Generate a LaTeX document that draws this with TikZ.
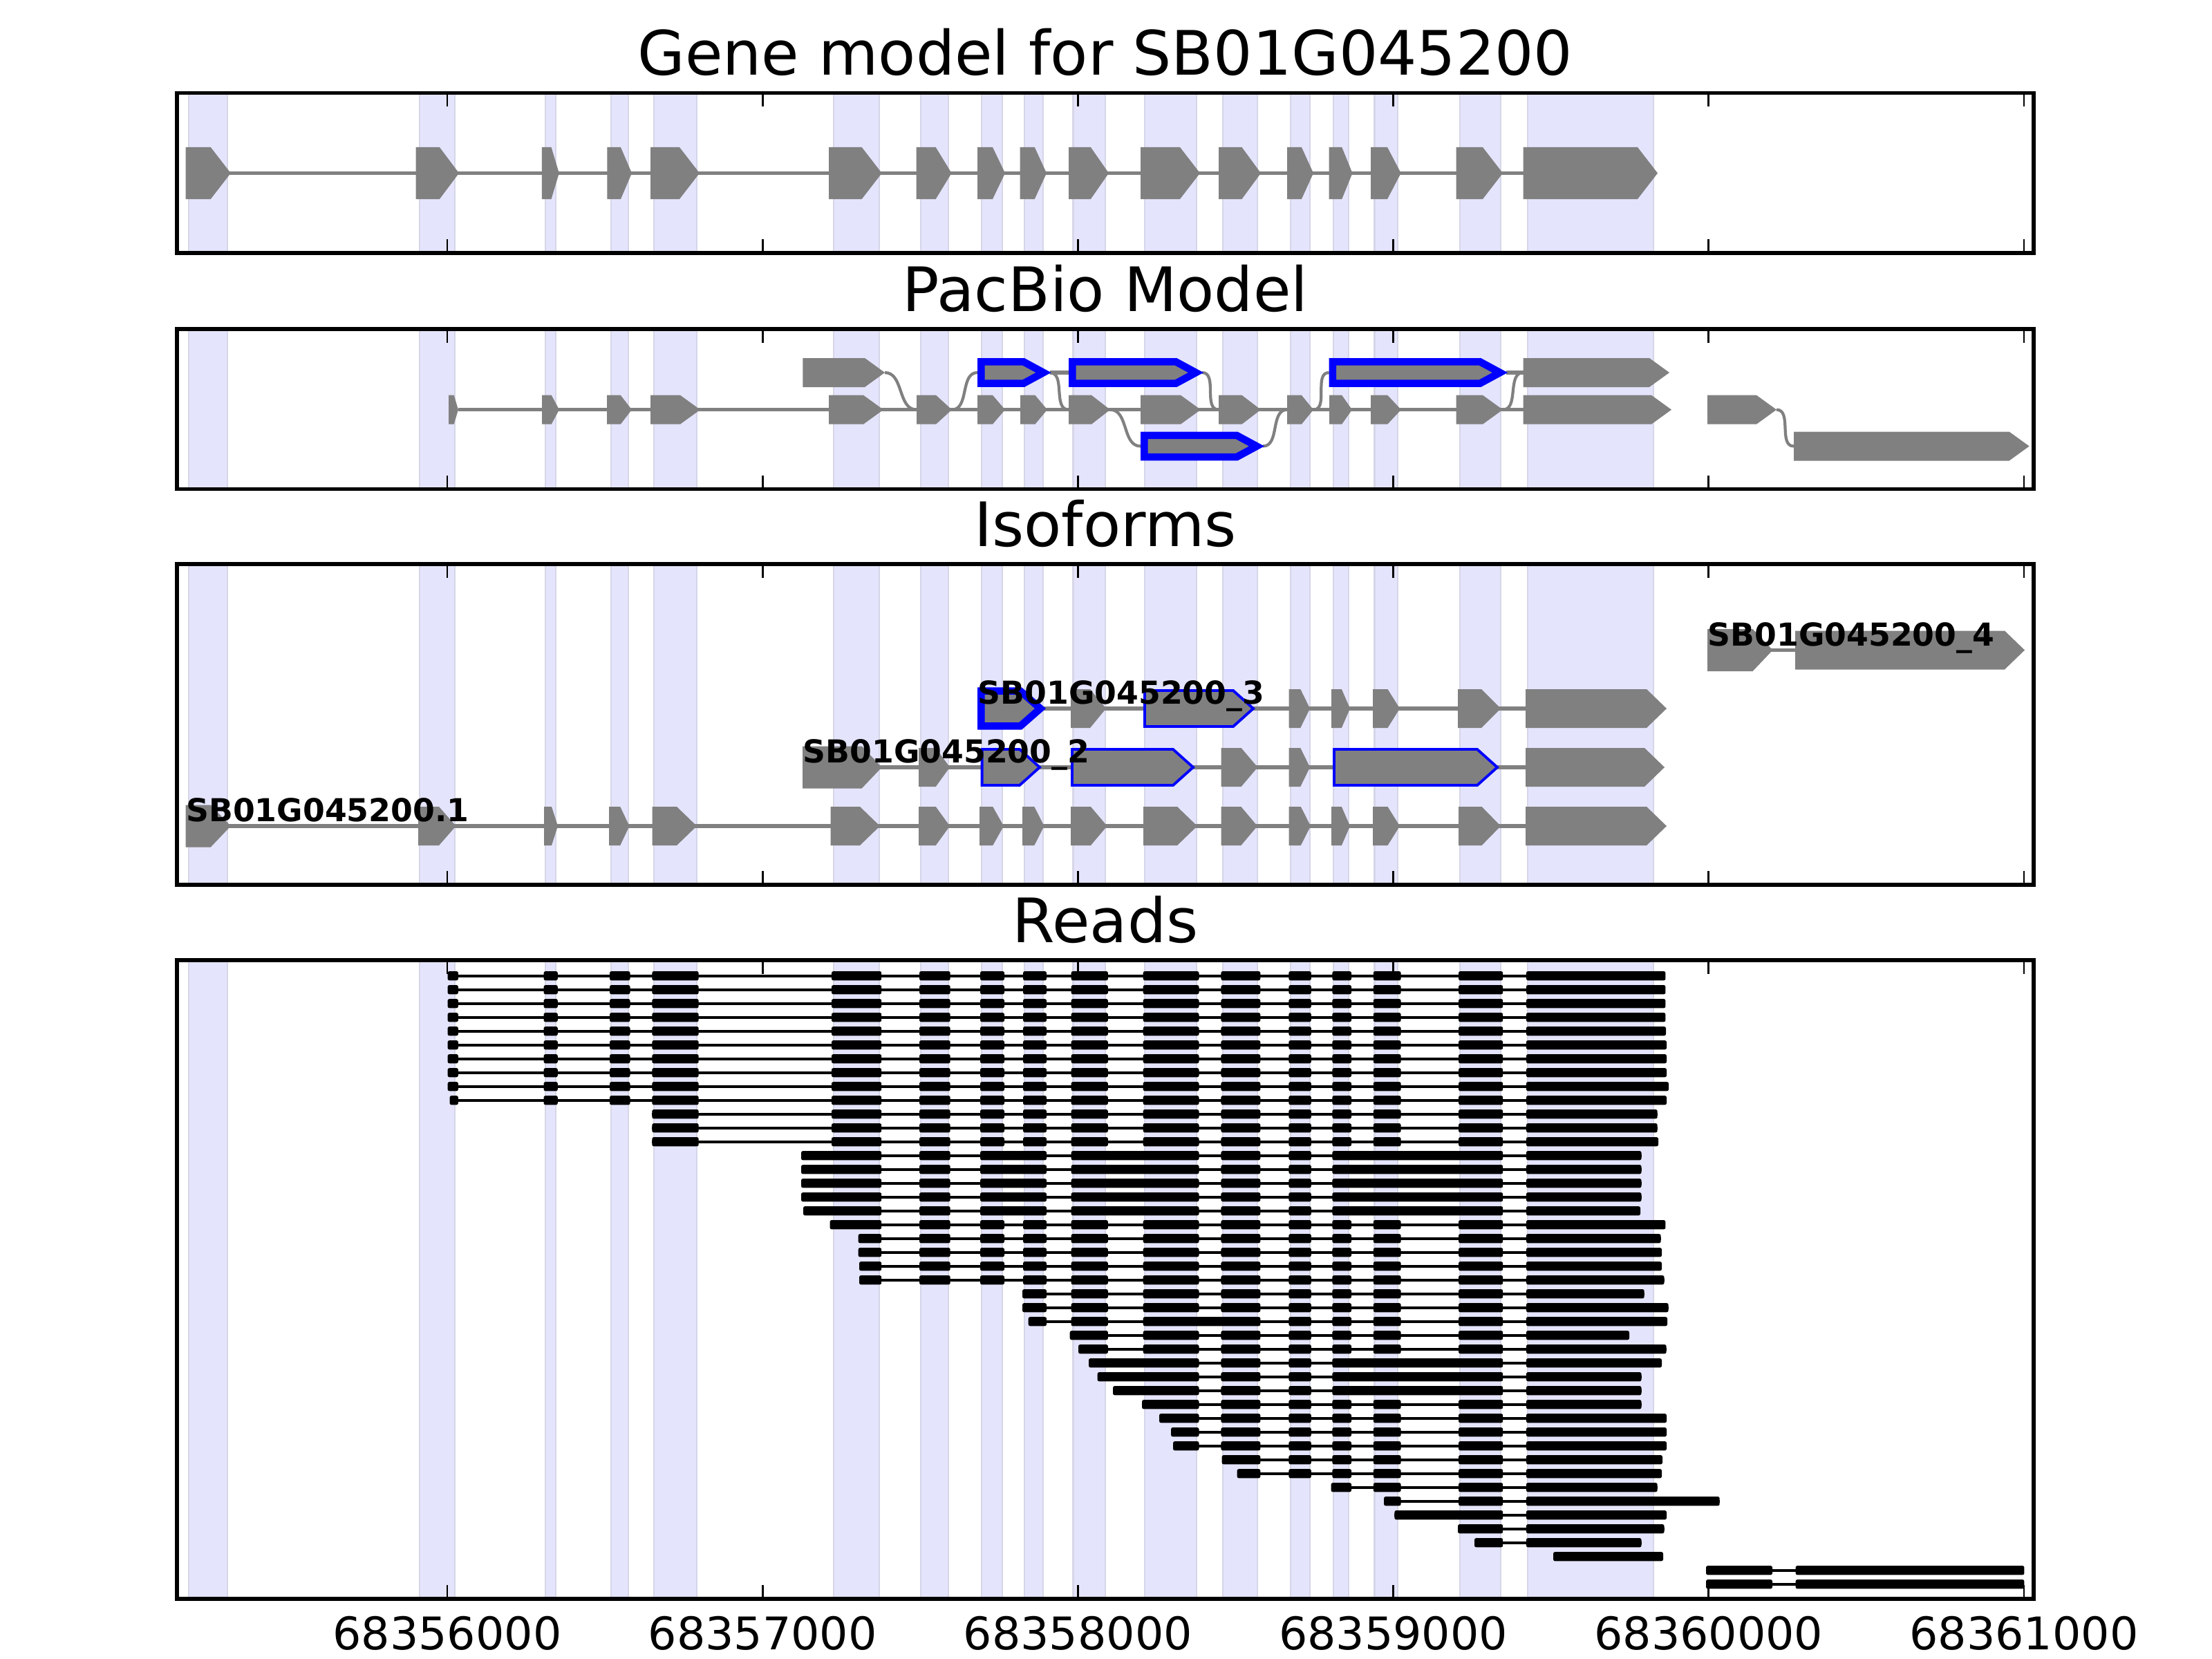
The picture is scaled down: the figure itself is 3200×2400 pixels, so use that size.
\documentclass[tikz,border=0pt]{standalone}
\usepackage{fontspec}
\setmainfont{DejaVu Sans}
\definecolor{exgray}{gray}{0.5}
\definecolor{band}{RGB}{228,228,252}
\definecolor{bandedge}{RGB}{214,214,232}
\tikzset{
  frame/.style={draw=black, line width=1.56pt},
  tickmark/.style={draw=black, line width=0.8pt},
  intron/.style={draw=exgray, line width=1.55pt},
  junction/.style={draw=exgray, line width=1.2pt},
  exonfill/.style={fill=exgray},
  bluethick/.style={fill=exgray, draw=blue, line width=3pt},
  bluethin/.style={fill=exgray, draw=blue, line width=1.1pt},
  readline/.style={draw=black, line width=1.15pt},
  readblock/.style={fill=black, rounded corners=0.7pt},
  title/.style={font=\fontsize{25.2}{30}\selectfont, anchor=base, inner sep=0pt},
  ticklabel/.style={font=\fontsize{18.5}{22}\selectfont, anchor=base, inner sep=0pt},
  isolabel/.style={font=\bfseries\fontsize{13}{15}\selectfont, anchor=base west, inner sep=0pt},
  bandstyle/.style={fill=band, draw=bandedge, line width=0.6pt},
}
% exon arrow: style, x0, x1, yc, half-height
\newcommand\exon[5]{%
  \pgfmathsetmacro\exhl{min(0.45*(#3-#2),29)}%
  \pgfmathsetmacro\exsh{#3-\exhl}%
  \path[#1] (#2,#4-#5) -- (\exsh,#4-#5) -- (#3,#4) -- (\exsh,#4+#5) -- (#2,#4+#5) -- cycle;}
% shaded exon bands between y top and y bottom
\newcommand\bands[2]{%
  \foreach \ba/\bb in {273/329,607/658,789/804,884/909,946/1008,1206/1272,1332/1372,1420/1450,1482/1509,1552.5/1599,1656/1731,1769/1818.6,1867/1895,1929/1951,1988.5/2022,2112/2171,2210/2392}
    {\path[bandstyle] (\ba,#1) rectangle (\bb,#2);}}
% panel frame with inward ticks on top and bottom
\newcommand\panelframe[2]{%
  \foreach \tx in {647,1103.2,1559.4,2015.6,2471.8,2928}
    {\draw[tickmark] (\tx,#1) -- (\tx,#1+20); \draw[tickmark] (\tx,#2) -- (\tx,#2-20);}
  \draw[frame] (256,#1) rectangle (2942,#2);}
% read: row, x start, x end, blocks
\newcommand\rd[4]{%
  \pgfmathsetmacro\rdy{1411.7+20*#1}%
  \draw[readline] (#2,\rdy) -- (#3,\rdy);%
  \edef\rdlist{#4}%
  \foreach \xa/\xb in \rdlist {\path[readblock] (\xa,\rdy-6.6) rectangle (\xb,\rdy+6.6);}}
\def\Hd{647.6/662.9,786.6/806.8,882/911.5,943.3/1010.7}
\def\Ef{1203/1275.2}
\def\TB{1330/1374.7,1418/1453,1480/1514}
\def\TA{1549.6/1602.9,1653.7/1734.5,1766.4/1823.3,1864.4/1896.8,1927.4/1955,1986.8/2026.6,2110/2174.2}
\def\TC{1766.4/1823.3,1864.4/1896.8,1927.4/1955,1986.8/2026.6,2110/2174.2}
\def\TD{1927.4/1955,1986.8/2026.6,2110/2174.2}
\def\TI{1330/1374.7,1418/1514,1549.6/1734.5,1766.4/1823.3,1864.4/1896.8,1927.4/2174.2}
\def\TE{1766.4/1823.3,1864.4/1896.8,1927.4/2174.2}
\begin{document}
\begin{tikzpicture}[x=0.01cm,y=-0.01cm]
\useasboundingbox (0,0) rectangle (3200,2400);
\fill[white] (0,0) rectangle (3200,2400);

% ---------------- titles ----------------
\node[title] (t1) at (1599,108.5) {Gene model for SB01G045200};
\node[title] (t2) at (1599,450) {PacBio Model};
\node[title] (t3) at (1599,790) {Isoforms};
\node[title] (t4) at (1599,1363) {Reads};

% ---------------- panel 1: gene model ----------------
\bands{134.5}{365.8}
\draw[intron] (300,250.5) -- (2300,250.5);
\foreach \xa/\xb in {268.6/333.8,601.6/664,783.8/808.8,878.4/914,941/1012,1199/1275.7,1325.7/1376.6,1414/1454,1475.7/1514,1546/1604,1650/1736,1763/1824,1862/1900,1922.6/1956.5,1983/2026.7,2106.5/2174,2203.6/2398}
  {\exon{exonfill}{\xa}{\xb}{250.5}{37.5}}
\panelframe{134.5}{365.8}

% ---------------- panel 2: PacBio model ----------------
\bands{476}{707.5}
% row B straight introns
\draw[intron] (663,592.7) -- (2203.6,592.7);
% named junction end points
\coordinate (a0e) at (1280,539);   \coordinate (b5s) at (1326,592.7);
\coordinate (b5e) at (1377,592.7); \coordinate (a1s) at (1414,539);
\coordinate (a1e) at (1518.6,539); \coordinate (a2s) at (1546,539);
\coordinate (b8s) at (1546,592.7); \coordinate (b8e) at (1606,592.7);
\coordinate (c0s) at (1650,645.5); \coordinate (a2e) at (1739,539);
\coordinate (b10s) at (1763,592.7); \coordinate (c0e) at (1827,645.5);
\coordinate (b11s) at (1862,592.7); \coordinate (b11e) at (1900,592.7);
\coordinate (a3s) at (1922.6,539); \coordinate (a3e) at (2179,539);
\coordinate (a4s) at (2203.6,539); \coordinate (b14e) at (2174,592.7);
\coordinate (b16e) at (2570,592.7); \coordinate (c1s) at (2595,645.5);
\draw[intron] (a1e) -- (a2s);
\draw[intron] (a3e) -- (a4s);
\draw[junction] (a0e) to[out=0,in=180] (b5s);
\draw[junction] (b5e) to[out=0,in=180] (a1s);
\draw[junction] (a1e) to[out=0,in=180] (b8s);
\draw[junction] (b8e) to[out=0,in=180] (c0s);
\draw[junction] (a2e) to[out=0,in=180] (b10s);
\draw[junction] (c0e) to[out=0,in=180] (b11s);
\draw[junction] (b11e) to[out=0,in=180] (a3s);
\draw[junction] (b14e) to[out=0,in=180] (a4s);
\draw[junction] (b16e) to[out=0,in=180] (c1s);
% row B exons
\foreach \xa/\xb in {649/663,784/809,878/914,941/1013,1199/1278,1326/1377,1414/1454,1476/1515,1546/1606,1650/1737,1763/1824,1862/1900,1923/1956,1983/2027,2106.5/2174,2203.6/2418,2470/2570}
  {\exon{exonfill}{\xa}{\xb}{592.7}{21}}
% row A exons
\exon{exonfill}{1161.4}{1280}{539}{21}
\exon{exonfill}{2203.6}{2415}{539}{21}
\exon{bluethick}{1419.3}{1509.6}{539}{15.7}
\exon{bluethick}{1551.3}{1730}{539}{15.7}
\exon{bluethick}{1927.9}{2170}{539}{15.7}
% row C exons
\exon{bluethick}{1655.3}{1818}{645.5}{15.7}
\exon{exonfill}{2595}{2935.6}{645.5}{21}
\panelframe{476}{707.5}

% ---------------- panel 3: isoforms ----------------
\bands{816}{1280}
% isoform .1
\draw[intron] (300,1195) -- (2300,1195);
\exon{exonfill}{268.6}{333.8}{1195}{30.5}
\foreach \xa/\xb in {605/659.6,787/807,881/910.5,943.6/1008,1201.6/1273,1329/1374,1417/1452,1479/1510.5,1549/1601.6,1654/1732,1766.5/1819,1864.5/1896,1926/1953,1986/2025,2110/2171,2207/2411}
  {\exon{exonfill}{\xa}{\xb}{1195}{28}}
% isoform _2
\draw[intron] (1200,1110) -- (2300,1110);
\exon{exonfill}{1161}{1275.7}{1110}{30.5}
\foreach \xa/\xb in {1329/1374,1766.5/1819.4,1864.5/1895,2207/2408}
  {\exon{exonfill}{\xa}{\xb}{1110}{28}}
\exon{bluethin}{1420.6}{1504}{1110}{26}
\exon{bluethin}{1551}{1726}{1110}{26}
\exon{bluethin}{1930}{2166}{1110}{26}
% isoform _3
\draw[intron] (1450,1025) -- (2300,1025);
\foreach \xa/\xb in {1549/1600,1864.5/1895,1926/1953,1986/2025,2109/2171,2207/2411}
  {\exon{exonfill}{\xa}{\xb}{1025}{28}}
\exon{bluethick}{1419.3}{1505}{1025}{25.4}
\exon{bluethin}{1656}{1813}{1025}{26}
% isoform _4
\draw[intron] (2520,940.5) -- (2700,940.5);
\exon{exonfill}{2470}{2564.5}{940.5}{30.5}
\exon{exonfill}{2597}{2929}{940.5}{28}
% labels
\node[isolabel] (l1) at (268.6,1188.5) {SB01G045200.1};
\node[isolabel] (l2) at (1161,1103.5) {SB01G045200\_2};
\node[isolabel] (l3) at (1414,1018.5) {SB01G045200\_3};
\node[isolabel] (l4) at (2470,934) {SB01G045200\_4};
\panelframe{816}{1280}

% ---------------- panel 4: reads ----------------
\bands{1389}{2313}
\rd{0}{647.6}{2409.4}{\Hd,\Ef,\TB,\TA,2207.9/2409.4}
\rd{1}{647.6}{2409.4}{\Hd,\Ef,\TB,\TA,2207.9/2409.4}
\rd{2}{647.6}{2409.4}{\Hd,\Ef,\TB,\TA,2207.9/2409.4}
\rd{3}{647.6}{2409.4}{\Hd,\Ef,\TB,\TA,2207.9/2409.4}
\rd{4}{647.6}{2410}{\Hd,\Ef,\TB,\TA,2207.9/2410}
\rd{5}{647.6}{2411}{\Hd,\Ef,\TB,\TA,2207.9/2411}
\rd{6}{647.6}{2411}{\Hd,\Ef,\TB,\TA,2207.9/2411}
\rd{7}{647.6}{2411}{\Hd,\Ef,\TB,\TA,2207.9/2411}
\rd{8}{647.6}{2414}{\Hd,\Ef,\TB,\TA,2207.9/2414}
\rd{9}{650.6}{2411}{650.6/662.9,786.6/806.8,882/911.5,943.3/1010.7,\Ef,\TB,\TA,2207.9/2411}
\rd{10}{943.3}{2397.7}{943.3/1010.7,\Ef,\TB,\TA,2207.9/2397.7}
\rd{11}{943.3}{2397.7}{943.3/1010.7,\Ef,\TB,\TA,2207.9/2397.7}
\rd{12}{943.3}{2399}{943.3/1010.7,\Ef,\TB,\TA,2207.9/2399}
\rd{13}{1159}{2374.5}{1159/1275.2,\TI,2207.9/2374.5}
\rd{14}{1159}{2374.5}{1159/1275.2,\TI,2207.9/2374.5}
\rd{15}{1159}{2374.5}{1159/1275.2,\TI,2207.9/2374.5}
\rd{16}{1159}{2374.5}{1159/1275.2,\TI,2207.9/2374.5}
\rd{17}{1162}{2373}{1162/1275.2,\TI,2207.9/2373}
\rd{18}{1200.5}{2409.4}{1200.5/1275.2,\TB,\TA,2207.9/2409.4}
\rd{19}{1241.6}{2402.6}{1241.6/1275.2,\TB,\TA,2207.9/2402.6}
\rd{20}{1241.6}{2404}{1241.6/1275.2,\TB,\TA,2207.9/2404}
\rd{21}{1243}{2404}{1243/1275.2,\TB,\TA,2207.9/2404}
\rd{22}{1243}{2407.5}{1243/1275.2,\TB,\TA,2207.9/2407.5}
\rd{23}{1479}{2378.7}{1479/1514,\TA,2207.9/2378.7}
\rd{24}{1479}{2413.6}{1479/1514,\TA,2207.9/2413.6}
\rd{25}{1487.7}{2412}{1487.7/1514,1549.6/1602.9,1653.7/1823.3,1864.4/1896.8,\TD,2207.9/2412}
\rd{26}{1547.7}{2357}{1547.7/1602.9,1653.7/1734.5,\TC,2207.9/2357}
\rd{27}{1560}{2410.6}{1560/1602.9,1653.7/1734.5,\TC,2207.9/2410.6}
\rd{28}{1575}{2404}{1575/1734.5,\TE,2207.9/2404}
\rd{29}{1587.6}{2374.5}{1587.6/1734.5,\TE,2207.9/2374.5}
\rd{30}{1610}{2374.5}{1610/1734.5,\TE,2207.9/2374.5}
\rd{31}{1652}{2374.5}{1652/1734.5,\TC,2207.9/2374.5}
\rd{32}{1677}{2411}{1677/1734.5,\TC,2207.9/2411}
\rd{33}{1694}{2411}{1694/1734.5,\TC,2207.9/2411}
\rd{34}{1697}{2411}{1697/1734.5,\TC,2207.9/2411}
\rd{35}{1767.6}{2405}{1767.6/1823.3,1864.4/1896.8,\TD,2207.9/2405}
\rd{36}{1789.6}{2404}{1789.6/1823.3,1864.4/1896.8,\TD,2207.9/2404}
\rd{37}{1925.6}{2397.7}{1925.6/1955,1986.8/2026.6,2110/2174.2,2207.9/2397.7}
\rd{38}{2002}{2487.7}{2002/2026.6,2110/2174.2,2207.9/2487.7}
\rd{39}{2017.4}{2411}{2017.4/2174.2,2207.9/2411}
\rd{40}{2109}{2407.5}{2109/2174.2,2207.9/2407.5}
\rd{41}{2133}{2374.5}{2133/2174.2,2207.9/2374.5}
\rd{42}{2247}{2406}{2247/2406}
\rd{43}{2468}{2928.4}{2468/2564,2597.6/2928.4}
\rd{44}{2468}{2928.4}{2468/2564,2597.6/2928.4}
\panelframe{1389}{2313}

% ---------------- tick labels ----------------
\node[ticklabel] (x1) at (647,2386.7) {68356000};
\node[ticklabel] (x2) at (1103.2,2386.7) {68357000};
\node[ticklabel] (x3) at (1559.4,2386.7) {68358000};
\node[ticklabel] (x4) at (2015.6,2386.7) {68359000};
\node[ticklabel] (x5) at (2471.8,2386.7) {68360000};
\node[ticklabel] (x6) at (2928,2386.7) {68361000};
\end{tikzpicture}
\end{document}
